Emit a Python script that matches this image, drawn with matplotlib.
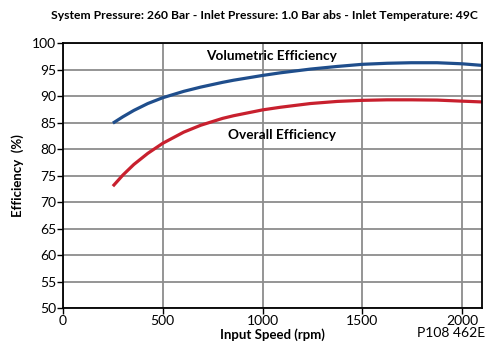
import matplotlib.pyplot as plt

plt.rcParams['font.family'] = ['Lato', 'DejaVu Sans']

speed = [250, 300, 355, 425, 500, 605, 690, 800, 855, 1000, 1090, 1240,
         1375, 1500, 1625, 1745, 1875, 2000, 2100]
volumetric = [84.9, 86.1, 87.3, 88.6, 89.7, 90.9, 91.7, 92.6, 93.0, 93.9, 94.4, 95.1,
              95.6, 96.0, 96.2, 96.3, 96.3, 96.1, 95.8]
overall = [73.0, 75.1, 77.1, 79.2, 81.1, 83.2, 84.5, 85.8, 86.3, 87.4, 87.9, 88.6,
           89.0, 89.2, 89.3, 89.3, 89.25, 89.05, 88.9]

x_ticks = [0, 500, 1000, 1500, 2000]
y_ticks = list(range(50, 101, 5))

fig = plt.figure(figsize=(4.9, 3.45), dpi=100)
ax = fig.add_axes([0.1286, 0.107, 0.855, 0.768])

ax.plot(speed, volumetric, color='#1f4e8c', lw=2.3, solid_capstyle='butt', solid_joinstyle='round')
ax.plot(speed, overall, color='#c8202e', lw=2.3, solid_capstyle='butt', solid_joinstyle='round')

ax.set_xlim(0, 2100)
ax.set_ylim(50, 100)
ax.set_xticks(x_ticks)
ax.set_yticks(y_ticks)
ax.grid(True, color='#8c8c8c', lw=1.3)
ax.set_axisbelow(True)
for s in ax.spines.values():
    s.set_color('black')
    s.set_linewidth(1.3)
ax.tick_params(labelsize=10, length=4, width=1.0, direction='out', pad=1)

ax.text(1045, 97.6, 'Volumetric Efficiency', ha='center', va='center',
        fontsize=9.8, fontweight='bold')
ax.text(1100, 82.6, 'Overall Efficiency', ha='center', va='center',
        fontsize=9.8, fontweight='bold')

ax.set_xlabel('Input Speed (rpm)', fontsize=9.5, fontweight='bold', labelpad=1)
ax.set_ylabel('Efficiency  (%)', fontsize=9.5, fontweight='bold', labelpad=6)

fig.text(0.54, 0.955, 'System Pressure: 260 Bar - Inlet Pressure: 1.0 Bar abs - Inlet Temperature: 49C',
         ha='center', va='center', fontsize=8.7, fontweight='bold')
fig.text(0.92, 0.035, 'P108 462E', ha='center', va='center', fontsize=10)

fig.savefig('out.png', dpi=100)
